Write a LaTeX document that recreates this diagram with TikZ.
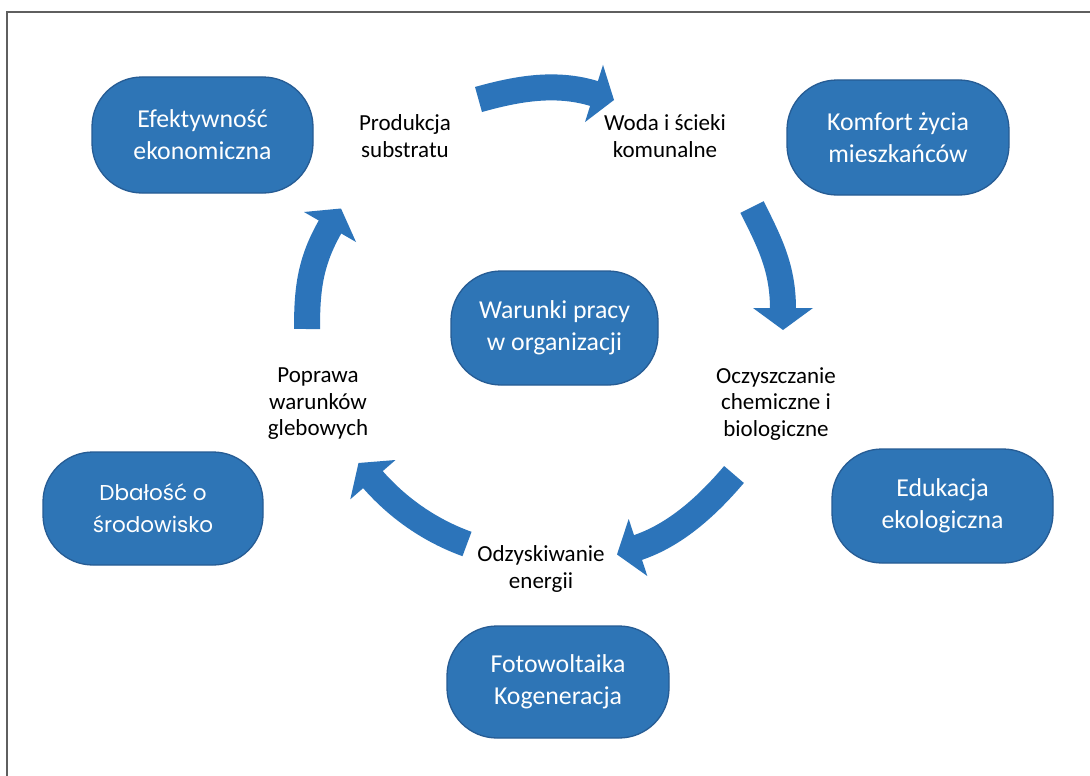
\documentclass[tikz,border=0pt]{standalone}
\usepackage{fontspec}
\setmainfont{Carlito}
\newfontfamily\popfont{Poppins}
\definecolor{boxblue}{RGB}{46,117,182}
\definecolor{boxedge}{RGB}{38,92,148}
\definecolor{arrowblue}{RGB}{44,116,186}
\definecolor{framegray}{RGB}{95,95,95}
\begin{document}
\begin{tikzpicture}[x=1pt,y=-1pt,
  box/.style={draw=boxedge, line width=1.3pt, fill=boxblue, rounded corners=50pt,
    text=white, align=center, font=\fontsize{25.8}{32}\selectfont, inner sep=0pt},
  lbl/.style={align=center, font=\fontsize{23}{26.5}\selectfont, text=black, inner sep=0pt},
  body/.style={draw=arrowblue, line width=26pt, shorten >=-1.5pt},
  head/.style={fill=arrowblue}]
\useasboundingbox (0,0) rectangle (1090,776);
\fill[white] (0,0) rectangle (1090,776);
% frame
\coordinate (fr1) at (1090,12);
\coordinate (fr2) at (7,12);
\coordinate (fr3) at (7,776);
\draw[framegray, line width=1.5pt] (fr1) -- (fr2) -- (fr3);

% boxes
\node[box, minimum width=221pt, minimum height=116pt] (eff) at (202.5,135) {Efektywność\\ekonomiczna};
\node[box, minimum width=222pt, minimum height=115pt] (kom) at (898,137.5) {Komfort życia\\mieszkańców};
\node[box, minimum width=207pt, minimum height=114pt] (war) at (554.5,328) {Warunki pracy\\w organizacji};
\node[box, minimum width=220pt, minimum height=113pt, font=\popfont\fontsize{21.5}{32}\selectfont] (dba) at (153,508.5) {Dbałość o\\środowisko};
\node[box, minimum width=221pt, minimum height=114pt] (edu) at (942.5,506) {Edukacja\\ekologiczna};
\node[box, minimum width=222pt, minimum height=112pt] (fot) at (558,682) {Fotowoltaika\\Kogeneracja};

% labels
\node[lbl] (prod) at (405,136) {Produkcja\\substratu};
\node[lbl] (woda) at (665,136) {Woda i ścieki\\komunalne};
\node[lbl] (oczy) at (776,404) {Oczyszczanie\\chemiczne i\\biologiczne};
\node[lbl] (odz) at (541,569) {Odzyskiwanie\\energii};
\node[lbl] (pop) at (318,404) {Poprawa\\warunków\\glebowych};

% arrow 1 (top)
\coordinate (t1) at (478.5,99.5);
\coordinate (c1a) at (517,88.7);
\coordinate (c1b) at (556,81.5);
\coordinate (b1) at (594,93.5);
\coordinate (h1a) at (603,64.9);
\coordinate (h1t) at (614,100);
\coordinate (h1b) at (585,122.1);
\draw[body] (t1) .. controls (c1a) and (c1b) .. (b1);
\fill[head] (h1a) -- (h1t) -- (h1b) -- cycle;

% arrow 2 (right)
\coordinate (t2) at (752,207);
\coordinate (c2a) at (770,243);
\coordinate (c2b) at (783,268);
\coordinate (b2) at (783,308);
\coordinate (h2a) at (753,308);
\coordinate (h2t) at (783,330);
\coordinate (h2b) at (813,308);
\draw[body] (t2) .. controls (c2a) and (c2b) .. (b2);
\fill[head] (h2a) -- (h2t) -- (h2b) -- cycle;

% arrow 3 (lower right)
\coordinate (t3) at (734,474.5);
\coordinate (c3a) at (708,505);
\coordinate (c3b) at (676,535);
\coordinate (b3) at (638,547.5);
\coordinate (h3a) at (628.7,519);
\coordinate (h3t) at (617,554.5);
\coordinate (h3b) at (647.3,576);
\draw[body] (t3) .. controls (c3a) and (c3b) .. (b3);
\fill[head] (h3a) -- (h3t) -- (h3b) -- cycle;

% arrow 4 (lower left)
\coordinate (t4) at (467,544);
\coordinate (c4a) at (430.6,530.8);
\coordinate (c4b) at (398.3,508.8);
\coordinate (b4) at (372.9,479.6);
\coordinate (h4a) at (395.5,460);
\coordinate (h4t) at (358.5,463);
\coordinate (h4b) at (350.3,499.3);
\draw[body] (t4) .. controls (c4a) and (c4b) .. (b4);
\fill[head] (h4a) -- (h4t) -- (h4b) -- cycle;

% arrow 5 (left)
\coordinate (t5) at (307,329);
\coordinate (c5a) at (307,289);
\coordinate (c5b) at (310,261.6);
\coordinate (b5) at (330,227);
\coordinate (h5a) at (304,212);
\coordinate (h5t) at (341,208.5);
\coordinate (h5b) at (356,242);
\draw[body] (t5) .. controls (c5a) and (c5b) .. (b5);
\fill[head] (h5a) -- (h5t) -- (h5b) -- cycle;
\end{tikzpicture}
\end{document}
